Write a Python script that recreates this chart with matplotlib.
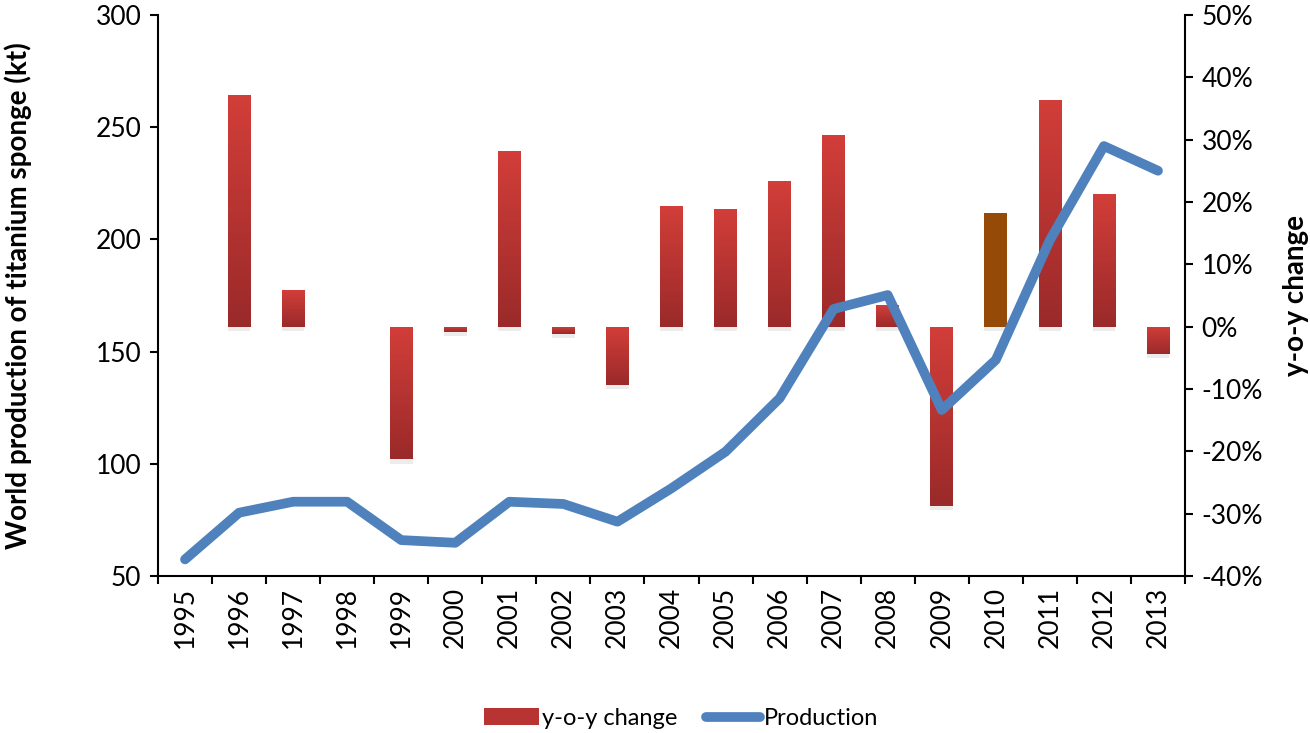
import numpy as np
import matplotlib
matplotlib.use('Agg')
from matplotlib import pyplot as plt
from matplotlib import patheffects as pe
from matplotlib.lines import Line2D
from matplotlib.patches import Patch
from matplotlib.colors import LinearSegmentedColormap
from matplotlib.ticker import FuncFormatter

plt.rcParams['font.family'] = ['Lato', 'DejaVu Sans']

# data
years = [1995, 1996, 1997, 1998, 1999, 2000, 2001, 2002, 2003, 2004,
         2005, 2006, 2007, 2008, 2009, 2010, 2011, 2012, 2013]
production = [57.4, 78.2, 83.1, 83.1, 66.0, 64.8, 83.1, 82.1, 74.2, 89.1,
              105.4, 129.2, 169.0, 175.2, 124.0, 146.3, 199.7, 241.6, 230.6]
# y-o-y change in %, no value for the first year
yoy = [None, 37.1, 5.9, 0.0, -21.3, -0.9, 28.2, -1.2, -9.4, 19.4,
       18.9, 23.3, 30.8, 3.4, -28.8, 18.3, 36.3, 21.3, -4.4]
highlight_year = 2010

red_top = '#d23e39'
red_bot = '#9a2a2a'
brown = '#964a08'
blue = '#4f81bd'

fig = plt.figure(figsize=(13.1, 7.33), dpi=100)
ax = fig.add_axes([158/1310, 1-576/733, (1185-158)/1310, (576-15)/733])
ax2 = ax.twinx()
ax.set_zorder(ax2.get_zorder() + 1)
ax.patch.set_visible(False)

x = np.arange(len(years))
grad = LinearSegmentedColormap.from_list('bar', [red_bot, red_top])
gimg = np.linspace(0, 1, 100).reshape(-1, 1)

for xi, yr, v in zip(x, years, yoy):
    if v is None:
        continue
    col = brown if yr == highlight_year else red_top
    b = ax2.bar(xi, v, width=0.42, color=col, linewidth=0, zorder=2)[0]
    b.set_path_effects([pe.SimplePatchShadow(offset=(0, -3), shadow_rgbFace='#999999', alpha=0.18),
                        pe.Normal()])
    if yr != highlight_year and v != 0:
        lo, hi = min(0, v), max(0, v)
        im = ax2.imshow(gimg, cmap=grad, aspect='auto', origin='lower',
                        extent=(xi - 0.21, xi + 0.21, lo, hi), zorder=3)
        im.set_clip_path(b)

ax.plot(x, production, color=blue, linewidth=7, solid_joinstyle='round',
        solid_capstyle='round', zorder=5)

ax.set_xlim(-0.5, len(years) - 0.5)
ax.set_ylim(50, 300)
ax.set_yticks(np.arange(50, 301, 50))
ax2.set_ylim(-40, 50)
ax2.set_yticks(np.arange(-40, 51, 10))
ax2.yaxis.set_major_formatter(FuncFormatter(lambda v, p: '%d%%' % v))

# tick marks between categories, labels at centres
ax.set_xticks(np.arange(-0.5, len(years), 1))
ax.set_xticklabels([])
ax.set_xticks(x, minor=True)
ax.set_xticklabels([str(y) for y in years], minor=True, rotation=90)
ax.tick_params(axis='x', which='minor', length=0, pad=8, labelsize=19)
ax.tick_params(axis='x', which='major', length=6, width=1.5, direction='out')
ax.tick_params(axis='y', length=6, width=1.5, labelsize=19, pad=6)
ax2.tick_params(axis='y', length=6, width=1.5, labelsize=19, pad=6)

for a in (ax, ax2):
    for s in a.spines.values():
        s.set_linewidth(1.5)
    a.spines['top'].set_visible(False)
ax.spines['right'].set_visible(False)
ax2.spines['left'].set_visible(False)
ax2.spines['bottom'].set_visible(False)

ax.set_ylabel('World production of titanium sponge (kt)', fontsize=20, fontweight='bold')
ax.yaxis.set_label_coords(-126/1027, 0.5)
ax2.set_ylabel('y-o-y change', fontsize=20, fontweight='bold')
ax2.yaxis.set_label_coords(1 + 98/1027, 0.5)

handles = [Patch(facecolor='#b83432', edgecolor='none'),
           Line2D([0], [0], color=blue, linewidth=7, solid_capstyle='round')]
fig.legend(handles, ['y-o-y change', 'Production'], loc='center', bbox_to_anchor=(0.52, 0.02),
           ncol=2, frameon=False, fontsize=17, handlelength=2.3, handletextpad=0.15,
           columnspacing=1.2)

fig.savefig('out.png', dpi=100)
